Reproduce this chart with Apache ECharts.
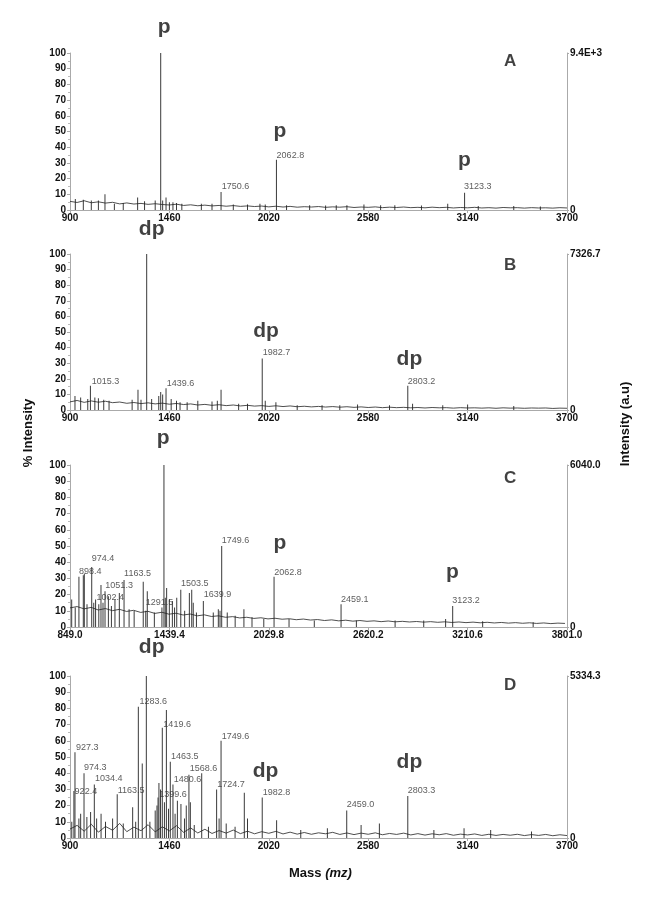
<!DOCTYPE html>
<html>
<head>
<meta charset="utf-8">
<script src="https://cdn.jsdelivr.net/npm/echarts@6/dist/echarts.min.js"></script>
<style>
html, body { margin: 0; padding: 0; background: #fff; }
#spectra { width: 649px; height: 900px; }
</style>
</head>
<body>
<div id="spectra"></div>
<script>
// x tick values of each panel
var ticksA = [900, 1460, 2020, 2580, 3140, 3700];
var ticksC = [849.0, 1439.4, 2029.8, 2620.2, 3210.6, 3801.0];

// right axis top values (absolute intensity)
var rightTop = ["9.4E+3", "7326.7", "6040.0", "5334.3"];
var panelNames = ["A", "B", "C", "D"];
var panelNamePos = [[3379, 95], [3379, 93], [3463, 91.8], [3379, 94.4]];

// noisy baseline, one value every baseStep m/z from baseStart
var baseStart = [900, 900, 849, 900];
var baseStep = [40, 40, 42, 40];
var baseA = [5.5, 4.8, 5.9, 4.6, 5.2, 4.4, 4.9, 3.9, 4.5, 3.8,
  4.2, 3.6, 4.0, 3.5, 3.2, 3.7, 2.9, 3.3, 2.7, 3.1,
  2.6, 2.9, 2.4, 2.8, 2.3, 2.6, 2.2, 2.5, 2.0, 2.4,
  1.9, 2.3, 1.8, 2.1, 1.9, 2.2, 1.7, 2.0, 1.8, 2.1,
  1.6, 1.9, 1.7, 2.0, 1.5, 1.8, 1.6, 1.9, 1.5, 1.7,
  1.4, 1.8, 1.5, 1.7, 1.3, 1.6, 1.4, 1.7, 1.3, 1.5,
  1.2, 1.6, 1.4, 1.5, 1.2, 1.5, 1.3, 1.4, 1.2, 1.5, 1.3];
var baseB = [5.2, 6.1, 4.9, 5.8, 5.0, 5.6, 4.7, 5.1, 4.3, 4.8,
  4.1, 4.6, 3.9, 4.4, 3.7, 4.2, 3.5, 3.9, 3.2, 3.6,
  3.0, 3.4, 2.8, 3.2, 2.6, 3.0, 2.5, 2.8, 2.3, 2.7,
  2.2, 2.6, 2.1, 2.4, 2.0, 2.3, 1.9, 2.2, 1.8, 2.1,
  1.7, 2.0, 1.6, 1.9, 1.5, 1.8, 1.5, 1.7, 1.4, 1.6,
  1.3, 1.6, 1.4, 1.5, 1.2, 1.5, 1.3, 1.4, 1.2, 1.4,
  1.1, 1.4, 1.2, 1.3, 1.1, 1.3, 1.2, 1.3, 1.0, 1.2, 1.1];
var baseC = [11.8, 12.6, 11.2, 12.1, 10.5, 11.4, 10.1, 10.9, 9.6, 10.3,
  9.0, 9.7, 8.4, 9.1, 7.9, 8.5, 7.4, 8.0, 6.9, 7.5,
  6.5, 6.9, 6.0, 6.4, 5.6, 6.0, 5.3, 5.7, 5.0, 5.4,
  4.8, 5.1, 4.5, 4.9, 4.3, 4.6, 4.0, 4.4, 3.8, 4.2,
  3.6, 4.0, 3.5, 3.8, 3.3, 3.7, 3.2, 3.5, 3.1, 3.4,
  3.0, 3.3, 2.9, 3.2, 2.8, 3.1, 2.7, 3.0, 2.6, 2.9,
  2.5, 2.8, 2.4, 2.7, 2.3, 2.6, 2.2, 2.5, 2.1, 2.4, 2.2];
var baseD = [5.5, 7.8, 4.2, 8.5, 3.6, 7.1, 4.8, 9.0, 3.9, 6.7,
  4.5, 8.2, 3.8, 6.9, 4.4, 7.6, 3.5, 6.2, 3.1, 5.4,
  2.8, 4.6, 3.0, 4.9, 2.7, 4.2, 2.6, 3.9, 2.9, 4.1,
  2.5, 3.6, 2.4, 3.4, 2.3, 3.2, 2.6, 3.5, 2.2, 3.1,
  2.1, 3.0, 2.3, 3.2, 2.0, 2.8, 2.2, 3.0, 1.9, 2.7,
  1.8, 2.6, 2.0, 2.7, 1.7, 2.4, 1.9, 2.5, 1.6, 2.3,
  1.6, 2.2, 1.7, 2.3, 1.5, 2.1, 1.6, 2.2, 1.4, 2.0, 1.5];

// peaks [m/z, % intensity]
var peaksA = [[930, 7], [975, 6.5], [1020, 6], [1060, 6], [1097, 10], [1150, 4], [1200, 4.5],
  [1281, 8], [1320, 5.5], [1380, 6], [1411, 100], [1422, 6], [1441, 8], [1460, 5], [1480, 5],
  [1500, 4.5], [1530, 4], [1640, 4], [1700, 4], [1751, 11.5], [1820, 3.5], [1900, 3.5],
  [1970, 4], [2000, 3.5], [2063, 32], [2120, 3], [2250, 3], [2340, 2.8], [2400, 3], [2460, 3],
  [2556, 3.5], [2650, 3], [2730, 3], [2880, 2.8], [3028, 4], [3123, 11], [3200, 2.5],
  [3400, 2.5], [3550, 2.3]];
var peaksB = [[928, 9], [960, 8], [1000, 7], [1015, 15.5], [1040, 8], [1060, 7.5], [1090, 6.5],
  [1120, 6], [1250, 6.5], [1283, 13], [1300, 6.5], [1332, 100], [1360, 7], [1400, 9],
  [1411, 11.5], [1422, 10], [1441, 14], [1470, 7], [1500, 6], [1520, 5], [1560, 5], [1620, 6],
  [1700, 5.5], [1730, 6], [1751, 13], [1850, 4], [1900, 4], [1983, 33], [2000, 6], [2060, 5],
  [2180, 3], [2320, 3], [2420, 3], [2520, 3.5], [2700, 3], [2803, 15.5], [2830, 4], [3000, 3],
  [3140, 3.5], [3400, 2.5]];
var peaksC = [[859, 17], [880, 12], [902, 31], [928, 32], [934, 33], [950, 14], [978, 37],
  [990, 15], [1001, 17], [1020, 14], [1033, 26], [1045, 15], [1057, 22], [1077, 19], [1095, 13],
  [1116, 17], [1142, 21], [1170, 29], [1200, 11], [1230, 10], [1284, 28], [1299, 10], [1308, 22],
  [1350, 9], [1395, 12], [1407, 100], [1415, 18], [1423, 24], [1439, 17], [1457, 16], [1470, 12],
  [1483, 18], [1507, 23], [1530, 10], [1558, 21], [1572, 23], [1581, 15], [1600, 9], [1641, 16],
  [1700, 9], [1730, 11], [1740, 10], [1750, 50], [1783, 9], [1830, 7], [1882, 11], [1930, 6],
  [2000, 5], [2061, 31], [2150, 5], [2300, 4], [2459, 14], [2550, 4], [2780, 4], [2950, 4],
  [3080, 5], [3122, 13], [3300, 3.5], [3600, 3]];
var peaksD = [[910, 10], [922, 29], [928, 53], [950, 12], [960, 15], [979, 40], [995, 13],
  [1016, 16], [1037, 33], [1050, 12], [1075, 15], [1100, 10], [1140, 12], [1166, 27], [1200, 9],
  [1253, 19], [1270, 10], [1285, 81], [1307, 46], [1330, 100], [1350, 10], [1380, 17], [1390, 20],
  [1396, 25], [1401, 34], [1410, 30], [1420, 68], [1432, 22], [1443, 79], [1455, 18], [1465, 47],
  [1480, 33], [1492, 15], [1505, 23], [1525, 21], [1545, 12], [1555, 20], [1570, 39], [1578, 22],
  [1600, 8], [1642, 40], [1680, 7], [1726, 30], [1740, 12], [1751, 60], [1780, 9], [1830, 7],
  [1882, 28], [1900, 12], [1983, 25], [2064, 11], [2200, 5], [2350, 6], [2459, 17], [2540, 8],
  [2643, 9], [2803, 26], [2950, 5], [3120, 6], [3270, 5], [3500, 4]];

// mass labels [m/z, %, text]
var labelsA = [[1755, 12.3, "1750.6"], [2064, 31.8, "2062.8"], [3120, 12.1, "3123.3"]];
var labelsB = [[1022, 15.4, "1015.3"], [1445, 14.3, "1439.6"], [1986, 33.8, "1982.7"], [2803, 15.6, "2803.2"]];
var labelsC = [[902, 31.5, "898.4"], [978, 39.5, "974.4"], [1007, 15.6, "1002.4"], [1059, 22.8, "1051.3"],
  [1170, 30.4, "1163.5"], [1299, 12.3, "1291.5"], [1508, 24.3, "1503.5"], [1643, 17.5, "1639.9"],
  [1750, 50.6, "1749.6"], [2062, 31, "2062.8"], [2459, 14.2, "2459.1"], [3120, 13.4, "3123.2"]];
var labelsD = [[934, 53.3, "927.3"], [926, 25.7, "922.4"], [979, 40.9, "974.3"], [1041, 34, "1034.4"],
  [1169, 26.5, "1163.5"], [1291, 81.7, "1283.6"], [1403, 23.9, "1399.6"], [1426, 67.5, "1419.6"],
  [1469, 47.3, "1463.5"], [1484, 33.3, "1480.6"], [1574, 40, "1568.6"], [1730, 30, "1724.7"],
  [1755, 59.9, "1749.6"], [1986, 25.3, "1982.8"], [2459, 17.9, "2459.0"], [2803, 26.4, "2803.3"]];

// p / dp marks [m/z, %, text]
var tagsA = [[1430, 116.7, "p"], [2083, 49.9, "p"], [3122, 31.8, "p"]];
var tagsB = [[1360, 115.8, "dp"], [2004, 50.6, "dp"], [2812, 32.5, "dp"]];
var tagsC = [[1403, 116.7, "p"], [2096, 51.7, "p"], [3120, 34, "p"]];
var tagsD = [[1360, 118, "dp"], [2002, 41, "dp"], [2812, 47, "dp"]];

var FONT = "'Liberation Sans', Arial, sans-serif";
var gridTops = [53, 254, 465, 676];
var gridHeights = [157, 156, 162, 162];

var bases = [baseA, baseB, baseC, baseD];
var peaks = [peaksA, peaksB, peaksC, peaksD];
var labels = [labelsA, labelsB, labelsC, labelsD];
var tags = [tagsA, tagsB, tagsC, tagsD];

var option = {
  backgroundColor: "#fff",
  animation: false,
  grid: [], xAxis: [], yAxis: [], series: [],
  graphic: [
    { type: "text", x: 28, y: 433, rotation: Math.PI / 2,
      style: { text: "% Intensity", font: "bold 13px " + FONT, fill: "#111", align: "center", verticalAlign: "middle" } },
    { type: "text", x: 625, y: 424, rotation: Math.PI / 2,
      style: { text: "Intensity (a.u)", font: "bold 13px " + FONT, fill: "#111", align: "center", verticalAlign: "middle" } },
    { type: "text", x: 289, y: 873,
      style: { text: "{n|Mass }{i|(mz)}", align: "left", verticalAlign: "middle",
        rich: { n: { font: "bold 13px " + FONT, fill: "#111" }, i: { font: "italic bold 13px " + FONT, fill: "#111" } } } }
  ]
};

for (var i = 0; i < 4; i++) {
  var isC = i === 2;
  var ticks = isC ? ticksC : ticksA;
  option.grid.push({ left: 70, right: 82, top: gridTops[i], height: gridHeights[i] });
  option.xAxis.push({
    type: "value", gridIndex: i, min: ticks[0], max: ticks[ticks.length - 1],
    axisLine: { lineStyle: { color: "#aaa", width: 1 } },
    axisTick: { customValues: ticks, length: 3, lineStyle: { color: "#aaa" } },
    axisLabel: {
      customValues: ticks, margin: 3, color: "#111", fontFamily: FONT, fontWeight: "bold", fontSize: 10,
      formatter: isC ? function (v) { return v.toFixed(1); } : function (v) { return String(v); }
    },
    splitLine: { show: false }
  });
  option.yAxis.push({
    type: "value", gridIndex: i, min: 0, max: 100, interval: 10,
    axisLine: { show: true, lineStyle: { color: "#aaa" } },
    axisTick: { show: true, length: 3, lineStyle: { color: "#aaa" } },
    minorTick: { show: true, splitNumber: 2, length: 2, lineStyle: { color: "#bbb" } },
    axisLabel: { margin: 4, color: "#111", fontFamily: FONT, fontWeight: "bold", fontSize: 10 },
    splitLine: { show: false }
  });
  option.yAxis.push({
    type: "value", gridIndex: i, position: "right", min: 0, max: 1, interval: 1,
    axisLine: { show: true, lineStyle: { color: "#aaa" } },
    axisTick: { show: true, length: 2, inside: false, lineStyle: { color: "#aaa" } },
    axisLabel: {
      margin: 3, color: "#111", fontFamily: FONT, fontWeight: "bold", fontSize: 10,
      formatter: (function (top) { return function (v) { return v === 1 ? top : "0"; }; })(rightTop[i])
    },
    splitLine: { show: false }
  });

  var baseData = bases[i].map(function (v, k) { return [baseStart[i] + k * baseStep[i], v]; });
  baseData = baseData.filter(function (d) { return d[0] <= ticks[ticks.length - 1]; });

  option.series.push({
    type: "bar", xAxisIndex: i, yAxisIndex: 2 * i, barWidth: 1, silent: true,
    itemStyle: { color: "#3a3a3a" }, data: peaks[i]
  });
  option.series.push({
    type: "line", xAxisIndex: i, yAxisIndex: 2 * i, symbol: "none", silent: true,
    lineStyle: { color: "#222", width: 0.8 }, data: baseData
  });
  option.series.push({
    type: "scatter", xAxisIndex: i, yAxisIndex: 2 * i, symbolSize: 0, clip: false, silent: true,
    label: {
      show: true, position: [0, 0], align: "left", verticalAlign: "bottom",
      fontFamily: FONT, fontSize: 9, color: "#333",
      formatter: function (p) { return p.value[2]; }
    },
    data: labels[i]
  });
  option.series.push({
    type: "scatter", xAxisIndex: i, yAxisIndex: 2 * i, symbolSize: 0, clip: false, silent: true,
    label: {
      show: true, position: "inside", align: "center", verticalAlign: "middle",
      fontFamily: FONT, fontSize: 21, fontWeight: "bold", color: "#111",
      formatter: function (p) { return p.value[2]; }
    },
    data: tags[i]
  });
  option.series.push({
    type: "scatter", xAxisIndex: i, yAxisIndex: 2 * i, symbolSize: 0, clip: false, silent: true,
    label: {
      show: true, position: "inside", align: "center", verticalAlign: "middle",
      fontFamily: FONT, fontSize: 17, fontWeight: "bold", color: "#111",
      formatter: function (p) { return p.value[2]; }
    },
    data: [[panelNamePos[i][0], panelNamePos[i][1], panelNames[i]]]
  });
}

var myChart = echarts.init(document.getElementById("spectra"), null, { renderer: "canvas" });
myChart.setOption(option);
</script>
</body>
</html>
